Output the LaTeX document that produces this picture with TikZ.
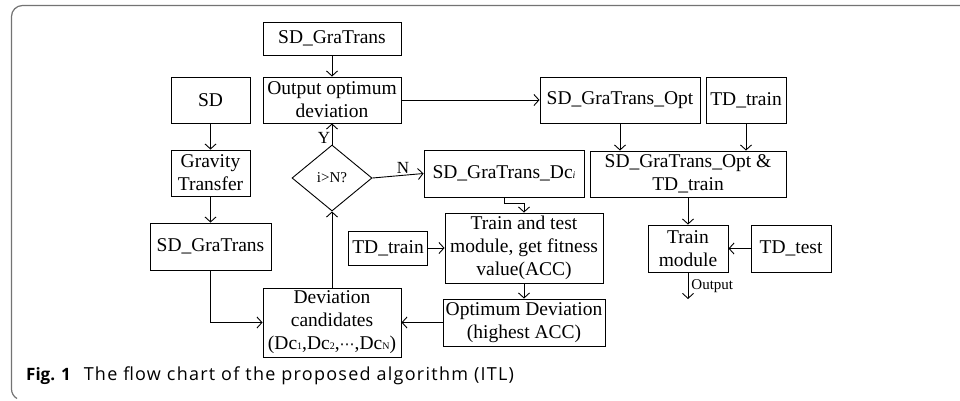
\documentclass[tikz,border=0pt]{standalone}
\usepackage{fontspec}
\setmainfont{Liberation Serif}
\newfontfamily\capfont{Open Sans}
\newfontfamily\symfont{DejaVu Sans}
\usetikzlibrary{shapes.geometric,arrows.meta}

\begin{document}
\begin{tikzpicture}[x=1pt,y=-1pt,
  box/.style={draw,line width=0.9pt,inner sep=0pt,align=center,font=\fontsize{19.5}{23}\selectfont},
  line/.style={draw,line width=0.9pt,-{Straight Barb[length=5pt,width=11pt]}},
  lbl/.style={font=\fontsize{17}{17}\selectfont,inner sep=1.5pt}]
  \useasboundingbox (0,0) rectangle (960,400);
  \draw[black!55,line width=1.2pt] (960,5.5) -- (22.5,5.5) arc (270:180:11) -- (11.5,389) arc (180:120:11);
  \node[anchor=base west,inner sep=0pt,font=\capfont] (cap) at (26,380.5)
    {{\fontsize{17}{17}\selectfont\bfseries Fig. 1}\hspace{13pt}{\fontsize{18}{18}\selectfont\addfontfeature{LetterSpace=7}The flow chart of the proposed algorithm (ITL)}};

  \node[box,minimum width=138pt,minimum height=33pt] (sdgt) at (332,38.5) {SD\_GraTrans};
  \node[box,minimum width=138pt,minimum height=46pt] (outopt) at (332,100) {Output optimum\\deviation};
  \node[box,minimum width=79pt,minimum height=46pt] (sd) at (210.5,100) {SD};
  \node[box,minimum width=79pt,minimum height=46pt] (grav) at (210.5,173) {Gravity\\Transfer};
  \node[box,minimum width=121pt,minimum height=47pt] (sdgtl) at (210.5,246.5) {SD\_GraTrans};
  \node[box,diamond,minimum width=80pt,minimum height=66pt,font=\fontsize{15}{15}\selectfont] (dec) at (332,178) {i>N?};
  \node[box,minimum width=138pt,minimum height=69pt] (devc) at (332,322.5)
    {Deviation\\candidates\\(Dc{\fontsize{10}{10}\selectfont 1},Dc{\fontsize{10}{10}\selectfont 2},{\symfont\fontsize{15}{15}\selectfont ⋯},Dc{\fontsize{10}{10}\selectfont N})};
  \node[box,minimum width=160pt,minimum height=47pt] (dci) at (504,173.5) {SD\_GraTrans\_Dc{\fontsize{10}{10}\selectfont\itshape i}};
  \node[box,minimum width=158pt,minimum height=70pt] (tat) at (524,248) {Train and test\\module, get fitness\\value(ACC)};
  \node[box,minimum width=79pt,minimum height=34pt] (tdtr1) at (388,248) {TD\_train};
  \node[box,minimum width=162pt,minimum height=47pt] (optdev) at (524,322.5) {Optimum Deviation\\(highest ACC)};
  \node[box,minimum width=160pt,minimum height=46pt] (opt) at (620,100) {SD\_GraTrans\_Opt};
  \node[box,minimum width=80pt,minimum height=46pt] (tdtr2) at (746,100) {TD\_train};
  \node[box,minimum width=196pt,minimum height=46pt] (comb) at (688,174) {SD\_GraTrans\_Opt \&\\TD\_train};
  \node[box,minimum width=80pt,minimum height=47pt] (trm) at (688,248.5) {Train\\module};
  \node[box,minimum width=80pt,minimum height=47pt] (tdts) at (791,248.5) {TD\_test};
  \coordinate (out) at (688,299);

  \draw[line] (sdgt) -- (outopt);
  \draw[line] (sd) -- (grav);
  \draw[line] (grav) -- (sdgtl);
  \draw[line] (sdgtl.south) |- (devc.west);
  \draw[line] (devc) -- (dec);
  \draw[line] (dec.north) -- node[lbl,left,pos=0.3]{Y} (outopt.south);
  \draw[line] (dec.east) -- node[lbl,above,pos=0.6]{N} (dci.west);
  \draw[line] (outopt.east) -- (opt.west);
  \draw[line] (dci.south) -- ++(0,6) -| (tat.north);
  \draw[line] (tdtr1) -- (tat);
  \draw[line] (tat) -- (optdev);
  \draw[line] (optdev) -- (devc);
  \draw[line] (opt) -- (opt |- comb.north);
  \draw[line] (tdtr2) -- (tdtr2 |- comb.north);
  \draw[line] (comb) -- (trm);
  \draw[line] (tdts) -- (trm);
  \draw[line] (trm) -- node[right,inner sep=3pt,font=\fontsize{15}{15}\selectfont]{Output} (out);
\end{tikzpicture}
\end{document}
